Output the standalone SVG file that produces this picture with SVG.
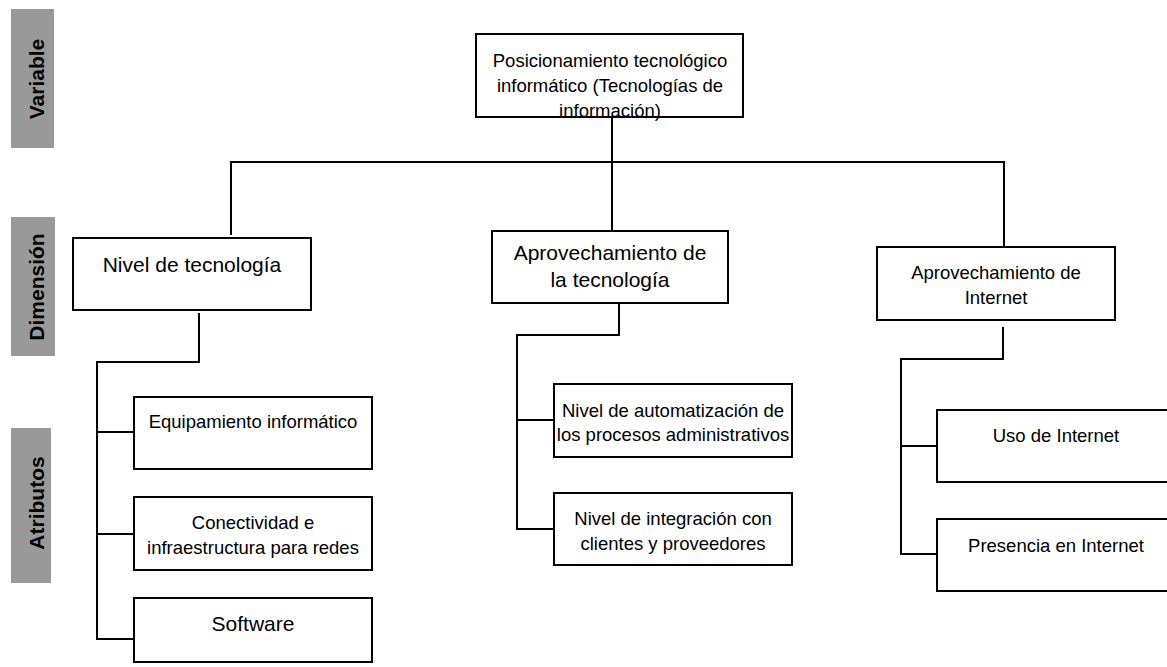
<svg xmlns="http://www.w3.org/2000/svg" width="1167" height="667" viewBox="0 0 1167 667">
<style>
.box{fill:#fff;stroke:#000;stroke-width:2}
.lbl{fill:#999}
.side{font-family:"Liberation Sans",Arial,sans-serif;font-weight:bold;font-size:21px;fill:#000;text-anchor:middle}
.t{font-family:"Liberation Sans",Arial,sans-serif;font-size:18.5px;fill:#000;text-anchor:middle}
.tl{font-family:"Liberation Sans",Arial,sans-serif;font-size:21px;fill:#000;text-anchor:middle}
.c{fill:none;stroke:#000;stroke-width:2}
</style>
<rect width="1167" height="667" fill="#fff"/>
<g id="labels">
<rect class="lbl" x="11" y="9" width="43" height="139"/>
<text class="side" transform="translate(44,79) rotate(-90)">Variable</text>
<rect class="lbl" x="11" y="217" width="44" height="139"/>
<text class="side" transform="translate(44,287) rotate(-90)">Dimensión</text>
<rect class="lbl" x="11" y="428" width="40" height="155"/>
<text class="side" transform="translate(44,503) rotate(-90)">Atributos</text>
</g>
<g id="connectors">
<path class="c" d="M612,117 V231"/>
<path class="c" d="M231,235 V162 H1004 V247"/>
<path class="c" d="M199,313 V362 H97 V639 H134 M97,432 H134 M97,534 H134"/>
<path class="c" d="M619,303 V335 H517 V529 H554 M517,420 H554"/>
<path class="c" d="M1003,327 V359 H901 V554 H937 M901,446 H937"/>
</g>
<g id="n-root">
<rect class="box" x="476" y="34" width="267" height="83"/>
<text class="t" x="610" y="67">Posicionamiento tecnológico</text>
<text class="t" x="610" y="92">informático (Tecnologías de</text>
<text class="t" x="610" y="117">información)</text>
</g>
<g id="n-nivel">
<rect class="box" x="73" y="238" width="238" height="72"/>
<text class="tl" x="192" y="272">Nivel de tecnología</text>
</g>
<g id="n-aprotec">
<rect class="box" x="492" y="231" width="236" height="72"/>
<text class="tl" x="610" y="260">Aprovechamiento de</text>
<text class="tl" x="610" y="287">la tecnología</text>
</g>
<g id="n-aproint">
<rect class="box" x="877" y="247" width="238" height="73"/>
<text class="t" x="996" y="279">Aprovechamiento de</text>
<text class="t" x="996" y="304">Internet</text>
</g>
<g id="n-equip">
<rect class="box" x="134" y="397" width="238" height="72"/>
<text class="t" x="253" y="428">Equipamiento informático</text>
</g>
<g id="n-conect">
<rect class="box" x="134" y="497" width="238" height="73"/>
<text class="t" x="253" y="529">Conectividad e</text>
<text class="t" x="253" y="554">infraestructura para redes</text>
</g>
<g id="n-soft">
<rect class="box" x="134" y="598" width="238" height="64"/>
<text class="tl" x="253" y="631">Software</text>
</g>
<g id="n-auto">
<rect class="box" x="554" y="384" width="238" height="73"/>
<text class="t" x="673" y="417">Nivel de automatización de</text>
<text class="t" x="673" y="441">los procesos administrativos</text>
</g>
<g id="n-integ">
<rect class="box" x="554" y="493" width="238" height="72"/>
<text class="t" x="673" y="525">Nivel de integración con</text>
<text class="t" x="673" y="550">clientes y proveedores</text>
</g>
<g id="n-uso">
<rect class="box" x="937" y="410" width="238" height="72"/>
<text class="t" x="1056" y="442">Uso de Internet</text>
</g>
<g id="n-pres">
<rect class="box" x="937" y="519" width="238" height="72"/>
<text class="t" x="1056" y="552">Presencia en Internet</text>
</g>
</svg>
